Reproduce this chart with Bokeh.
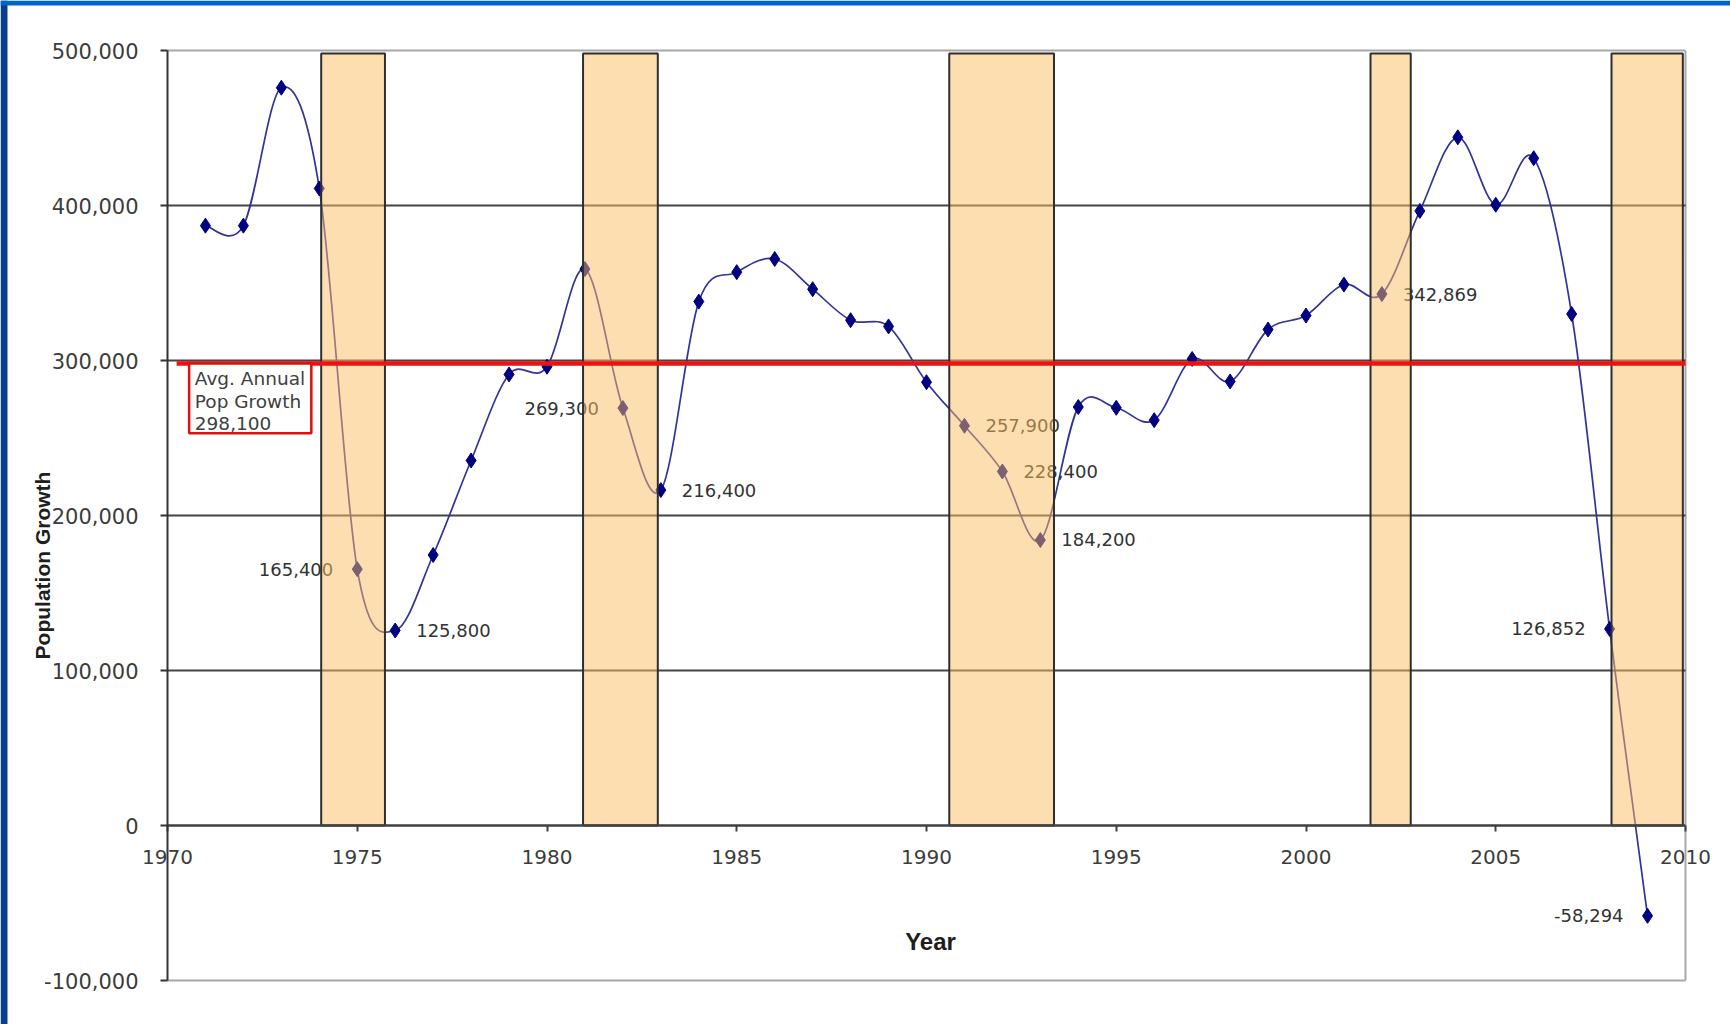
import numpy as np
from bokeh.plotting import figure
from bokeh.models import (Range1d, FixedTicker, NumeralTickFormatter, BoxAnnotation, Label,
                          ColumnDataSource)
from bokeh.core.properties import value
from bokeh.embed import file_html
from bokeh.resources import INLINE

# ---------------- data ----------------
years = list(range(1971, 2010))
growth = [387000, 387000, 476000, 411000, 165400, 125800, 174500, 235500, 291000, 296000,
          359000, 269300, 216400, 338000, 357000, 365500, 346000, 326000, 322000, 286000,
          257900, 228400, 184200, 270000, 269500, 261500, 301000, 286500, 320000, 329000,
          349000, 342869, 396500, 444000, 400500, 430500, 330000, 126852, -58294]
avg_growth = 298100

labeled_years = [1975, 1976, 1982, 1983, 1991, 1992, 1993, 2002, 2008, 2009]
label_side = ["left", "right", "left", "right", "right", "right", "right", "right", "left", "left"]

recession_start = [1974.05, 1980.95, 1990.6, 2001.7, 2008.05]
recession_end = [1975.73, 1982.92, 1993.36, 2002.76, 2009.93]
recession_top = 498000

x_ticks = [1970, 1975, 1980, 1985, 1990, 1995, 2000, 2005, 2010]
y_ticks = [-100000, 0, 100000, 200000, 300000, 400000, 500000]
grid_ticks = [100000, 200000, 300000, 400000]

# ---------------- layout (pixels) ----------------
W, H = 1730, 1024
plot_left, plot_right, plot_top, plot_bottom = 167, 1685, 50, 980
x_lo, x_hi = x_ticks[0], x_ticks[-1]
y_lo, y_hi = y_ticks[0], y_ticks[-1]
xpp = (x_hi - x_lo) / (plot_right - plot_left)      # years per pixel
ypp = (y_hi - y_lo) / (plot_bottom - plot_top)      # value per pixel
x_start = x_lo - plot_left * xpp
x_end = x_hi + (W - plot_right) * xpp
y_end = y_hi + plot_top * ypp
y_start = y_lo - (H - plot_bottom) * ypp

p = figure(width=W, height=H, x_range=Range1d(x_start, x_end), y_range=Range1d(y_start, y_end),
           output_backend="svg", toolbar_location=None, min_border=0)
p.background_fill_color = "white"
p.border_fill_color = "white"
p.outline_line_color = None
p.xgrid.visible = False
p.ygrid.visible = False

# plot-area border (light gray) and horizontal gridlines (dark)
p.segment(x0=[x_lo, x_lo, x_hi], y0=[y_hi, y_lo, y_lo], x1=[x_hi, x_hi, x_hi], y1=[y_hi, y_lo, y_hi],
          line_color="#a8a8a8", line_width=2)
p.segment(x0=[x_lo] * len(grid_ticks), y0=grid_ticks, x1=[x_hi] * len(grid_ticks), y1=grid_ticks,
          line_color="#454545", line_width=2)

# x axis at zero
p.xaxis.fixed_location = 0
p.xaxis.bounds = (x_lo, x_hi)
p.xaxis.ticker = FixedTicker(ticks=x_ticks)
p.xaxis.axis_line_color = "#404040"
p.xaxis.axis_line_width = 2.5
p.xaxis.major_tick_line_color = "#404040"
p.xaxis.major_tick_line_width = 2
p.xaxis.major_tick_in = 0
p.xaxis.major_tick_out = 6
p.xaxis.minor_tick_line_color = None
p.xaxis.major_label_text_font = "DejaVu Sans"
p.xaxis.major_label_text_font_size = "20px"
p.xaxis.major_label_text_color = "#3c3c3c"
p.xaxis.major_label_standoff = 18

# y axis at 1970
p.yaxis.fixed_location = x_lo
p.yaxis.bounds = (y_lo, y_hi)
p.yaxis.ticker = FixedTicker(ticks=y_ticks)
p.yaxis.formatter = NumeralTickFormatter(format="0,0")
p.yaxis.axis_line_color = "#333333"
p.yaxis.axis_line_width = 2
p.yaxis.major_tick_line_color = "#333333"
p.yaxis.major_tick_line_width = 2
p.yaxis.major_tick_in = 0
p.yaxis.major_tick_out = 7
p.yaxis.minor_tick_line_color = None
p.yaxis.major_label_text_font = "DejaVu Sans"
p.yaxis.major_label_text_font_size = "21px"
p.yaxis.major_label_text_color = "#3c3c3c"
p.yaxis.major_label_standoff = 22

# smoothed series (Catmull-Rom Bezier segments through the points)
x = np.array(years, dtype=float)
y = np.array(growth, dtype=float)
n = len(x)
xp = np.concatenate([[x[0]], x, [x[-1]]])
yp = np.concatenate([[y[0]], y, [y[-1]]])
seg = ColumnDataSource(dict(
    x0=xp[1:n], y0=yp[1:n], x1=xp[2:n + 1], y1=yp[2:n + 1],
    cx0=xp[1:n] + (xp[2:n + 1] - xp[0:n - 1]) / 6.0,
    cy0=yp[1:n] + (yp[2:n + 1] - yp[0:n - 1]) / 6.0,
    cx1=xp[2:n + 1] - (xp[3:n + 2] - xp[1:n]) / 6.0,
    cy1=yp[2:n + 1] - (yp[3:n + 2] - yp[1:n]) / 6.0,
))
p.bezier(x0="x0", y0="y0", x1="x1", y1="y1", cx0="cx0", cy0="cy0", cx1="cx1", cy1="cy1",
         source=seg, line_color="#33339a", line_width=1.7)
p.scatter(years, growth, marker="diamond", size=15, fill_color="#000080", line_color="#000080")

# data labels
lab_vals = [growth[years.index(yy)] for yy in labeled_years]
left_idx = [i for i, s in enumerate(label_side) if s == "left"]
right_idx = [i for i, s in enumerate(label_side) if s == "right"]
for idx, align, off in ((left_idx, "right", -24), (right_idx, "left", 21)):
    p.text([labeled_years[i] for i in idx], [lab_vals[i] for i in idx],
           text=[f"{lab_vals[i]:,}" for i in idx],
           x_offset=off, text_align=align, text_baseline="middle",
           text_font=value("DejaVu Sans"), text_font_size="18px", text_color="#333333")

# recession bands (semi-transparent overlay)
p.quad(left=recession_start, right=recession_end, bottom=[0] * len(recession_start),
       top=[recession_top] * len(recession_start),
       fill_color="#fbbd61", fill_alpha=0.5, line_color="#2e2e2e", line_width=2)

# average line
p.line([1970.24, x_hi], [avg_growth, avg_growth], line_color="#ee1111", line_width=4.5)

# average note box
p.add_layout(BoxAnnotation(left=1970.57, right=1973.79, top=avg_growth, bottom=253100,
                           fill_color="white", fill_alpha=1.0,
                           line_color="#dd1111", line_alpha=1.0, line_width=2.5))
p.add_layout(Label(x=1970.72, y=avg_growth - 3000,
                   text=f"Avg. Annual\nPop Growth\n{avg_growth:,}",
                   text_font="DejaVu Sans", text_font_size="18.5px", text_color="#404040",
                   text_align="left", text_baseline="top", text_line_height=1.08))

# axis titles
p.add_layout(Label(x=x_start + 42 * xpp, y=y_end - 565 * ypp, text="Population Growth",
                   angle=np.pi / 2,
                   text_font="Liberation Sans", text_font_style="bold", text_font_size="21px",
                   text_color="#1e1e1e", text_align="center", text_baseline="middle"))
p.add_layout(Label(x=x_start + 930 * xpp, y=y_end - 941 * ypp, text="Year",
                   text_font="Liberation Sans", text_font_style="bold", text_font_size="24px",
                   text_color="#1e1e1e", text_align="center", text_baseline="middle"))

# slide frame strips (blue background edges)
p.add_layout(BoxAnnotation(right=x_start + 7 * xpp, fill_color="#0b3f8c", fill_alpha=1.0,
                           line_color=None))
p.add_layout(BoxAnnotation(bottom=y_end - 5 * ypp, fill_color="#0064c8", fill_alpha=1.0,
                           line_color=None))

open("out.html", "w").write(file_html(p, INLINE))
